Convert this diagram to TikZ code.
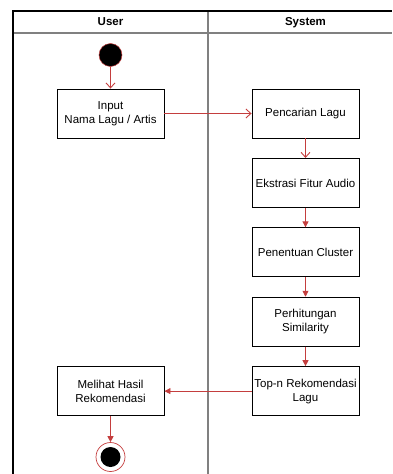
\documentclass[tikz,border=0pt]{standalone}
\usepackage{fontspec}
\setmainfont{Liberation Sans}
\usetikzlibrary{arrows.meta,positioning}

\definecolor{flowred}{RGB}{196,62,62}
\definecolor{lanegray}{RGB}{128,128,128}

\begin{document}
\begin{tikzpicture}[
    x=1pt, y=-1pt,
    font=\fontsize{11.5}{14}\selectfont,
    box/.style={rectangle, draw, line width=0.9pt, minimum width=107pt, minimum height=49pt, inner sep=1pt, align=center},
    lane/.style={font=\fontsize{11.5}{14}\selectfont\bfseries, text height=8.5pt, text depth=2.5pt},
    openarrow/.style={->, >={Straight Barb[length=5pt,width=9pt]}, draw=flowred, line width=0.9pt},
    arrow/.style={-{Triangle[length=6pt,width=6pt]}, draw=flowred, fill=flowred, line width=0.9pt},
    node distance=19.5pt
]
\useasboundingbox (0,0) rectangle (392,474);

% swimlanes
\draw[lanegray, line width=2pt] (13,33) -- (392,33);
\draw[lanegray, line width=2pt] (208,11) -- (208,474);
\draw[line width=1.2pt] (13,474) -- (13,11) -- (392,11);
\node[lane] (userlane) at (110.5,22) {User};
\node[lane] (systemlane) at (305.5,22) {System};

% start
\node[circle, fill=black, draw=flowred, line width=0.5pt, minimum size=23pt, inner sep=0pt] (start) at (110.5,55) {};

% user
\node[box] (input) at (110.5,113.5) {Input\\Nama Lagu / Artis};

% system
\node[box] (cari) at (305.5,113.5) {Pencarian Lagu};
\node[box, below=of cari] (ekstrasi) {Ekstrasi Fitur Audio};
\node[box, below=of ekstrasi] (cluster) {Penentuan Cluster};
\node[box, below=of cluster] (similarity) {Perhitungan\\Similarity};
\node[box, below=of similarity] (topn) {Top-n Rekomendasi\\Lagu};

% user
\node[box] (hasil) at (input |- topn) {Melihat Hasil\\Rekomendasi};

% end
\node[circle, draw=flowred, line width=0.7pt, minimum size=29pt, inner sep=0pt] (end) at (110.5,457) {};
\node[circle, fill=black, minimum size=20pt, inner sep=0pt] (endcore) at (end.center) {};

\draw[openarrow] (start) -- (input);
\draw[openarrow] (input) -- (cari);
\draw[openarrow] (cari) -- (ekstrasi);
\draw[arrow] (ekstrasi) -- (cluster);
\draw[arrow] (cluster) -- (similarity);
\draw[arrow] (similarity) -- (topn);
\draw[arrow] (topn) -- (hasil);
\draw[arrow] (hasil) -- (end);
\end{tikzpicture}
\end{document}
